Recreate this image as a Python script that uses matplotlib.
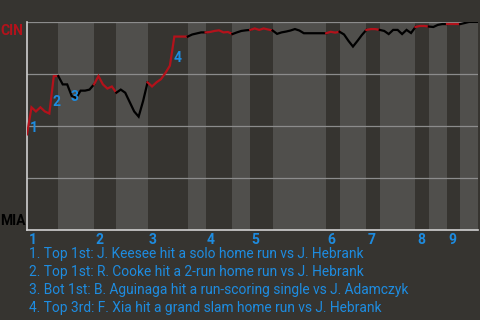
import matplotlib
matplotlib.use("Agg")
import matplotlib.pyplot as plt
from matplotlib.transforms import blended_transform_factory
import numpy as np

# Win probability for CIN after each play (play 0 = first pitch)
cin_wp = [
    0.46, 0.59, 0.57, 0.59, 0.57, 0.56, 0.74, 0.74,
    0.70, 0.70, 0.645, 0.635, 0.67, 0.67, 0.675, 0.70,
    0.74, 0.70, 0.68, 0.69, 0.66,
    0.675, 0.66, 0.615, 0.57, 0.545, 0.62, 0.71,
    0.69, 0.71, 0.725, 0.755, 0.79, 0.93, 0.93, 0.93, 0.93,
    0.94, 0.945, 0.95, 0.95,
    0.952, 0.957, 0.96, 0.95, 0.952, 0.942,
    0.95, 0.957, 0.96, 0.962,
    0.969, 0.962, 0.969, 0.964, 0.959,
    0.943, 0.95, 0.954, 0.959, 0.966, 0.959, 0.946, 0.946, 0.946, 0.946, 0.946, 0.946,
    0.953, 0.949, 0.953,
    0.94, 0.909, 0.882, 0.909, 0.9375, 0.962,
    0.966, 0.966, 0.962,
    0.957, 0.942, 0.962, 0.962, 0.942, 0.962, 0.947, 0.976,
    0.981, 0.981, 0.978,
    0.976, 0.986, 0.99, 0.99,
    0.99, 0.99, 0.99,
    0.995, 1.0, 1.0, 1.0,
]

# plays per half inning: top 1, bot 1, top 2, ...
half_inning_plays = [7, 8, 5, 7, 9, 4, 6, 4, 5, 12, 3, 6, 3, 8, 3, 4, 3, 4]

away_team = "CIN"
home_team = "MIA"

event_plays = [1, 6, 10, 33]
event_notes = [
    "1. Top 1st: J. Keesee hit a solo home run vs J. Hebrank",
    "2. Top 1st: R. Cooke hit a 2-run home run vs J. Hebrank",
    "3. Bot 1st: B. Aguinaga hit a run-scoring single vs J. Adamczyk",
    "4. Top 3rd: F. Xia hit a grand slam home run vs J. Hebrank",
]

BG = "#363430"
DARK_BAND = "#363430"
LIGHT_BAND = "#504f4c"
RED = "#b3121b"
BLUE = "#1e8ce0"
FONT = ["Roboto", "DejaVu Sans"]

plt.rcParams["font.family"] = FONT

fig = plt.figure(figsize=(4.8, 3.2), dpi=100, facecolor=BG)
ax = fig.add_axes([27 / 480, 1 - 230 / 320, 451 / 480, 208 / 320])
ax.set_facecolor(BG)

bounds = np.concatenate([[0], np.cumsum(half_inning_plays)])
x = np.arange(len(cin_wp))

for h in range(len(half_inning_plays)):
    start, end = bounds[h], bounds[h + 1]
    top_half = h % 2 == 0
    ax.axvspan(start, end, color=DARK_BAND if top_half else LIGHT_BAND, lw=0, zorder=0)
    ax.plot(x[start:end + 1], cin_wp[start:end + 1], color=RED if top_half else "black",
            lw=1.6, solid_joinstyle="miter", zorder=3)

for g in [0.25, 0.5, 0.75, 1.0]:
    ax.axhline(g, color="#8c8c8c", lw=0.9, zorder=1)

ax.set_xlim(0, bounds[-1])
ax.set_ylim(0, 1)
ax.set_xticks([])
ax.set_yticks([])
for side in ["top", "right"]:
    ax.spines[side].set_visible(False)
for side in ["left", "bottom"]:
    ax.spines[side].set_color("#d0d0d0")
    ax.spines[side].set_linewidth(1.2)

# team labels at either end of the y axis
ax.annotate(away_team, xy=(0, 1), xycoords="axes fraction", xytext=(-4, -2),
            textcoords="offset pixels", ha="right", va="top",
            color=RED, fontsize=10, fontweight="bold")
ax.annotate(home_team, xy=(0, 0), xycoords="axes fraction", xytext=(-1, 2),
            textcoords="offset pixels", ha="right", va="bottom",
            color="black", fontsize=10, fontweight="bold")

# inning numbers under the start of each inning
trans = blended_transform_factory(ax.transData, ax.transAxes)
for n in range(9):
    ax.annotate(str(n + 1), xy=(bounds[2 * n], 0), xycoords=trans, xytext=(1.5, -3),
                textcoords="offset pixels", ha="left", va="top",
                color=BLUE, fontsize=10, fontweight="bold")

# numbered markers next to the big plays
for k, p in enumerate(event_plays):
    mid_y = (cin_wp[p - 1] + cin_wp[p]) / 2
    ax.annotate(str(k + 1), xy=(p - 0.5, mid_y), xytext=(5, -7),
                textcoords="offset pixels", ha="center", va="center",
                color=BLUE, fontsize=10, fontweight="bold", zorder=4)

for k, note in enumerate(event_notes):
    fig.text(29 / 480, 1 - (254 + 18 * k) / 320, note, color=BLUE,
             fontsize=9.9, ha="left", va="center")

fig.savefig("out.png", dpi=100, facecolor=BG)
